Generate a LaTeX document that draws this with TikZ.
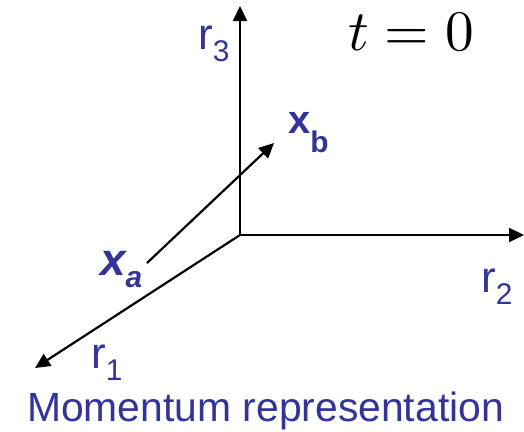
\documentclass[tikz,border=0pt]{standalone}
\usepackage{fontspec}
\setmainfont{Liberation Sans}
\usetikzlibrary{arrows.meta}
\definecolor{lblue}{RGB}{51,51,153}
\newcommand{\rlab}[1]{{\fontsize{44}{44}\selectfont r}\raisebox{-12bp}{\fontsize{30}{30}\selectfont #1}}
\tikzset{
  axis/.style={line width=2.2bp,-{Triangle[length=15bp,width=14bp]}},
  lab/.style={inner sep=0pt,anchor=base west,text=lblue}
}
\begin{document}
\begin{tikzpicture}[x=1bp,y=-1bp]
\useasboundingbox (0,0) rectangle (524,431);
\coordinate (O) at (240,235);
\coordinate (T3) at (240,6);
\coordinate (T2) at (524,235);
\coordinate (T1) at (35,368);
\coordinate (XA) at (147,263);
\coordinate (XB) at (274,143);
\draw[axis] (O) -- (T3);
\draw[axis] (O) -- (T2);
\draw[axis] (O) -- (T1);
\draw[axis] (XA) -- (XB);
\node[lab] (l3) at (198,49) {\rlab{3}};
\node[lab] (l2) at (481,292) {\rlab{2}};
\node[lab] (l1) at (91,368) {\rlab{1}};
\node[lab] (lb) at (288,133) {{\fontsize{40}{40}\selectfont\bfseries x}\raisebox{-19bp}{\fontsize{30}{30}\selectfont\bfseries b}};
\node[lab] (la) at (100,275) {{\fontsize{46}{46}\selectfont\bfseries\itshape x}\raisebox{-12bp}{\fontsize{30}{30}\selectfont\bfseries\itshape a}};
\node[inner sep=0pt,anchor=base west] (t) at (348,50) {\scalebox{5.75}{$t=0$}};
\node[lab] (mom) at (27,421) {\fontsize{41}{41}\selectfont Momentum representation};
\end{tikzpicture}
\end{document}
